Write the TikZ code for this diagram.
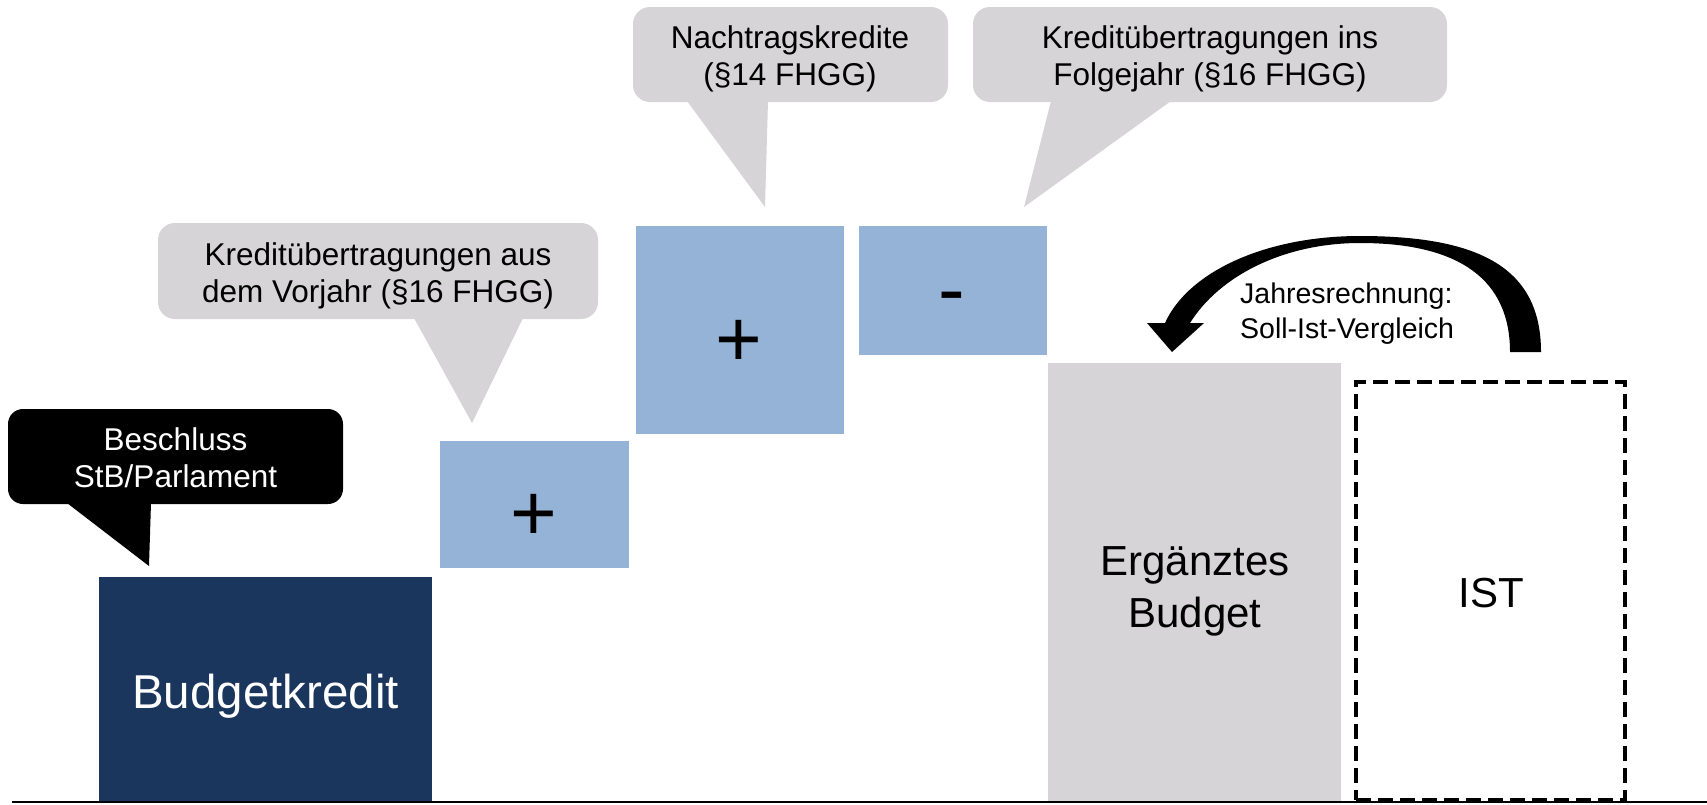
\documentclass[tikz,border=0pt]{standalone}
\usepackage{fontspec}
\setmainfont{Liberation Sans}
\definecolor{navy}{HTML}{1B365D}
\definecolor{lblue}{HTML}{95B3D7}
\definecolor{lgray}{HTML}{D6D4D6}
\tikzset{
  bar/.style={rectangle, inner sep=0pt, outer sep=0pt, draw=none},
  txtA/.style={font=\fontsize{31.5}{37}\selectfont, align=center, anchor=base, inner sep=0pt},
  txtJ/.style={font=\fontsize{28.5}{35}\selectfont, align=left, anchor=base west, inner sep=0pt},
  txtB/.style={font=\fontsize{42}{52}\selectfont, align=center, anchor=base, inner sep=0pt},
  sign/.style={font=\fontsize{80}{90}\selectfont, anchor=base, inner sep=0pt},
}
\begin{document}
\begin{tikzpicture}[x=1pt, y=-1pt]
\useasboundingbox (0,0) rectangle (1707,804);

% bars
\node[bar, fill=navy, minimum width=333pt, minimum height=225pt] (bk) at (265.5,689.5) {};
\node[bar, fill=lblue, minimum width=189pt, minimum height=127pt] (p1) at (534.5,504.5) {};
\node[bar, fill=lblue, minimum width=208pt, minimum height=208pt] (p2) at (740,330) {};
\node[bar, fill=lblue, minimum width=188pt, minimum height=129pt] (m1) at (953,290.5) {};
\node[bar, fill=lgray, minimum width=293pt, minimum height=439pt] (eb) at (1194.5,582.5) {};
\node[bar, draw=black, line width=4pt, dash pattern=on 15pt off 7pt, minimum width=269pt, minimum height=418pt] (ist) at (1490.5,591) {};

% axis
\coordinate (axL) at (12,802);
\coordinate (axR) at (1707,802);
\draw[line width=2pt] (axL) -- (axR);

% callouts
\fill[black, rounded corners=15pt] (8,409) rectangle (343,504);
\fill[black] (67,503) -- (151,503) -- (149,566) -- cycle;
\fill[lgray, rounded corners=17pt] (158,223) rectangle (598,319);
\fill[lgray] (414,318) -- (523,318) -- (472,423) -- cycle;
\fill[lgray, rounded corners=17pt] (633,7) rectangle (948,102);
\fill[lgray] (687,101) -- (768,101) -- (765,207) -- cycle;
\fill[lgray, rounded corners=17pt] (973,7) rectangle (1447,102);
\fill[lgray] (1051,101) -- (1171,101) -- (1024,207) -- cycle;

% curved arrow
\fill[black] (1541,352) .. controls (1541,268) and (1480,236) .. (1360,236)
  .. controls (1265,236) and (1188,272) .. (1165,323)
  -- (1147,323) -- (1172,352) -- (1204,323) -- (1190,323)
  .. controls (1220,275) and (1285,243) .. (1360,243)
  .. controls (1460,243) and (1510,280) .. (1510,352) -- cycle;

% texts
\node[txtA, text=white] (tBes) at (175.5,487) {Beschluss\\StB/Parlament};
\node[txtA] (tVor) at (378,302) {Kreditübertragungen aus\\dem Vorjahr (§16 FHGG)};
\node[txtA] (tNach) at (790,85) {Nachtragskredite\\(§14 FHGG)};
\node[txtA] (tFolg) at (1210,85) {Kreditübertragungen ins\\Folgejahr (§16 FHGG)};
\node[txtJ] (tJahr) at (1240,338) {Jahresrechnung:\\Soll-Ist-Vergleich};
\node[font=\fontsize{47.5}{56}\selectfont, text=white, anchor=base, inner sep=0pt] (tBk) at (265.5,708) {Budgetkredit};
\node[txtB] (tEb) at (1195,627) {Ergänztes\\Budget};
\node[txtB] (tIst) at (1491,607) {IST};
\node[sign] (sP1) at (534,540) {+};
\node[sign] (sP2) at (739,366) {+};
\node[sign] (sM1) at (952,316) {-};
\end{tikzpicture}
\end{document}
